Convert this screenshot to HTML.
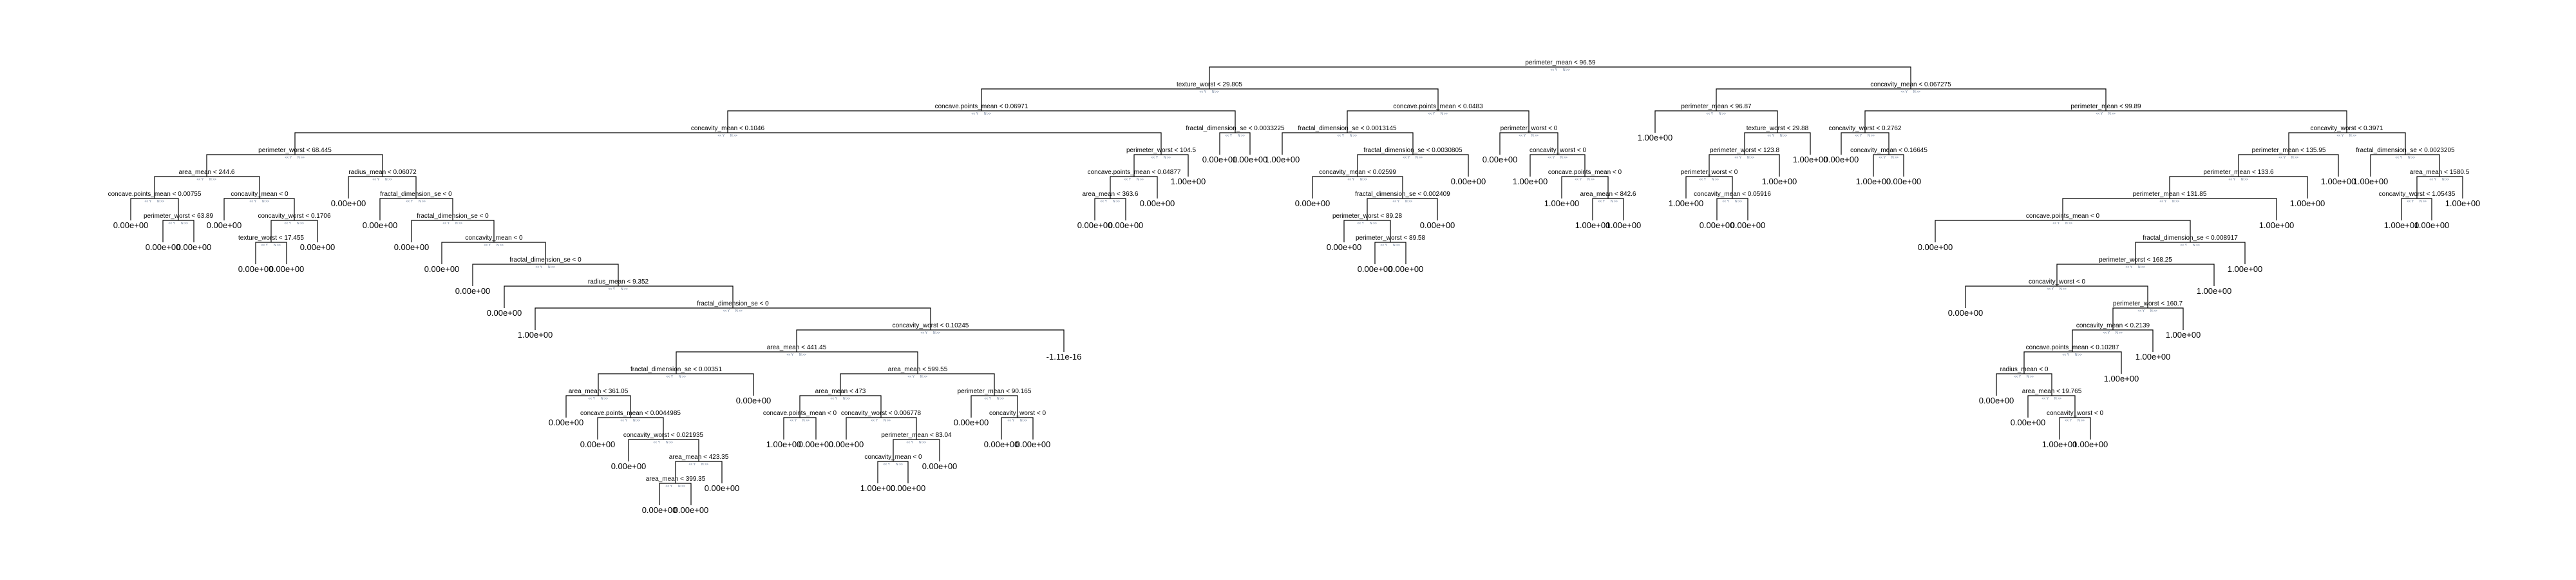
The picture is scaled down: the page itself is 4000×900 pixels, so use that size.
<!DOCTYPE html>
<html><head><meta charset="utf-8"><style>
html,body{margin:0;padding:0;background:#fff;}
svg{display:block;}
text{font-family:"Liberation Sans",sans-serif;}
.n{font-size:10px;text-anchor:middle;fill:#000;}
.l{font-size:13px;text-anchor:middle;fill:#000;}
.y{font-size:5px;text-anchor:end;fill:#5b6e8c;}
.N{font-size:5px;text-anchor:start;fill:#5b6e8c;}
path{fill:none;stroke:#000;stroke-width:1.2;}
</style></head><body>
<svg width="4000" height="900" viewBox="0 0 4000 900" xmlns="http://www.w3.org/2000/svg">
<rect width="4000" height="900" fill="#fff"/>
<!-- internal nodes -->
<path d="M1878 138V104H2967V138"/><text class="n" x="2423" y="100">perimeter_mean &lt; 96.59</text><text class="y" x="2418" y="110">&lt;&lt; Y</text><text class="N" x="2427" y="110">N &gt;&gt;</text>
<path d="M1524 172V138H2233V172"/><text class="n" x="1878" y="134">texture_worst &lt; 29.805</text><text class="y" x="1873" y="144">&lt;&lt; Y</text><text class="N" x="1882" y="144">N &gt;&gt;</text>
<path d="M1130 206V172H1918V206"/><text class="n" x="1524" y="168">concave.points_mean &lt; 0.06971</text><text class="y" x="1519" y="178">&lt;&lt; Y</text><text class="N" x="1528" y="178">N &gt;&gt;</text>
<path d="M458 240V206H1803V240"/><text class="n" x="1130" y="202">concavity_mean &lt; 0.1046</text><text class="y" x="1125" y="212">&lt;&lt; Y</text><text class="N" x="1134" y="212">N &gt;&gt;</text>
<path d="M321 274V240H594V274"/><text class="n" x="458" y="236">perimeter_worst &lt; 68.445</text><text class="y" x="453" y="246">&lt;&lt; Y</text><text class="N" x="462" y="246">N &gt;&gt;</text>
<path d="M240 308V274H403V308"/><text class="n" x="321" y="270">area_mean &lt; 244.6</text><text class="y" x="316" y="280">&lt;&lt; Y</text><text class="N" x="325" y="280">N &gt;&gt;</text>
<path d="M203 342V308H277V342"/><text class="n" x="240" y="304">concave.points_mean &lt; 0.00755</text><text class="y" x="235" y="314">&lt;&lt; Y</text><text class="N" x="244" y="314">N &gt;&gt;</text>
<path d="M253 376V342H301V376"/><text class="n" x="277" y="338">perimeter_worst &lt; 63.89</text><text class="y" x="272" y="348">&lt;&lt; Y</text><text class="N" x="281" y="348">N &gt;&gt;</text>
<path d="M348 342V308H457V342"/><text class="n" x="403" y="304">concavity_mean &lt; 0</text><text class="y" x="398" y="314">&lt;&lt; Y</text><text class="N" x="407" y="314">N &gt;&gt;</text>
<path d="M421 376V342H493V376"/><text class="n" x="457" y="338">concavity_worst &lt; 0.1706</text><text class="y" x="452" y="348">&lt;&lt; Y</text><text class="N" x="461" y="348">N &gt;&gt;</text>
<path d="M397 410V376H445V410"/><text class="n" x="421" y="372">texture_worst &lt; 17.455</text><text class="y" x="416" y="382">&lt;&lt; Y</text><text class="N" x="425" y="382">N &gt;&gt;</text>
<path d="M541 308V274H646V308"/><text class="n" x="594" y="270">radius_mean &lt; 0.06072</text><text class="y" x="589" y="280">&lt;&lt; Y</text><text class="N" x="598" y="280">N &gt;&gt;</text>
<path d="M590 342V308H703V342"/><text class="n" x="646" y="304">fractal_dimension_se &lt; 0</text><text class="y" x="641" y="314">&lt;&lt; Y</text><text class="N" x="650" y="314">N &gt;&gt;</text>
<path d="M639 376V342H767V376"/><text class="n" x="703" y="338">fractal_dimension_se &lt; 0</text><text class="y" x="698" y="348">&lt;&lt; Y</text><text class="N" x="707" y="348">N &gt;&gt;</text>
<path d="M686 410V376H847V410"/><text class="n" x="767" y="372">concavity_mean &lt; 0</text><text class="y" x="762" y="382">&lt;&lt; Y</text><text class="N" x="771" y="382">N &gt;&gt;</text>
<path d="M734 444V410H960V444"/><text class="n" x="847" y="406">fractal_dimension_se &lt; 0</text><text class="y" x="842" y="416">&lt;&lt; Y</text><text class="N" x="851" y="416">N &gt;&gt;</text>
<path d="M783 478V444H1138V478"/><text class="n" x="960" y="440">radius_mean &lt; 9.352</text><text class="y" x="955" y="450">&lt;&lt; Y</text><text class="N" x="964" y="450">N &gt;&gt;</text>
<path d="M831 512V478H1445V512"/><text class="n" x="1138" y="474">fractal_dimension_se &lt; 0</text><text class="y" x="1133" y="484">&lt;&lt; Y</text><text class="N" x="1142" y="484">N &gt;&gt;</text>
<path d="M1237 546V512H1652V546"/><text class="n" x="1445" y="508">concavity_worst &lt; 0.10245</text><text class="y" x="1440" y="518">&lt;&lt; Y</text><text class="N" x="1449" y="518">N &gt;&gt;</text>
<path d="M1050 580V546H1425V580"/><text class="n" x="1237" y="542">area_mean &lt; 441.45</text><text class="y" x="1232" y="552">&lt;&lt; Y</text><text class="N" x="1241" y="552">N &gt;&gt;</text>
<path d="M929 614V580H1170V614"/><text class="n" x="1050" y="576">fractal_dimension_se &lt; 0.00351</text><text class="y" x="1045" y="586">&lt;&lt; Y</text><text class="N" x="1054" y="586">N &gt;&gt;</text>
<path d="M879 648V614H979V648"/><text class="n" x="929" y="610">area_mean &lt; 361.05</text><text class="y" x="924" y="620">&lt;&lt; Y</text><text class="N" x="933" y="620">N &gt;&gt;</text>
<path d="M928 682V648H1030V682"/><text class="n" x="979" y="644">concave.points_mean &lt; 0.0044985</text><text class="y" x="974" y="654">&lt;&lt; Y</text><text class="N" x="983" y="654">N &gt;&gt;</text>
<path d="M976 716V682H1085V716"/><text class="n" x="1030" y="678">concavity_worst &lt; 0.021935</text><text class="y" x="1025" y="688">&lt;&lt; Y</text><text class="N" x="1034" y="688">N &gt;&gt;</text>
<path d="M1049 750V716H1121V750"/><text class="n" x="1085" y="712">area_mean &lt; 423.35</text><text class="y" x="1080" y="722">&lt;&lt; Y</text><text class="N" x="1089" y="722">N &gt;&gt;</text>
<path d="M1024 784V750H1073V784"/><text class="n" x="1049" y="746">area_mean &lt; 399.35</text><text class="y" x="1044" y="756">&lt;&lt; Y</text><text class="N" x="1053" y="756">N &gt;&gt;</text>
<path d="M1305 614V580H1544V614"/><text class="n" x="1425" y="576">area_mean &lt; 599.55</text><text class="y" x="1420" y="586">&lt;&lt; Y</text><text class="N" x="1429" y="586">N &gt;&gt;</text>
<path d="M1242 648V614H1368V648"/><text class="n" x="1305" y="610">area_mean &lt; 473</text><text class="y" x="1300" y="620">&lt;&lt; Y</text><text class="N" x="1309" y="620">N &gt;&gt;</text>
<path d="M1217 682V648H1267V682"/><text class="n" x="1242" y="644">concave.points_mean &lt; 0</text><text class="y" x="1237" y="654">&lt;&lt; Y</text><text class="N" x="1246" y="654">N &gt;&gt;</text>
<path d="M1314 682V648H1423V682"/><text class="n" x="1368" y="644">concavity_worst &lt; 0.006778</text><text class="y" x="1363" y="654">&lt;&lt; Y</text><text class="N" x="1372" y="654">N &gt;&gt;</text>
<path d="M1387 716V682H1459V716"/><text class="n" x="1423" y="678">perimeter_mean &lt; 83.04</text><text class="y" x="1418" y="688">&lt;&lt; Y</text><text class="N" x="1427" y="688">N &gt;&gt;</text>
<path d="M1363 750V716H1410V750"/><text class="n" x="1387" y="712">concavity_mean &lt; 0</text><text class="y" x="1382" y="722">&lt;&lt; Y</text><text class="N" x="1391" y="722">N &gt;&gt;</text>
<path d="M1508 648V614H1580V648"/><text class="n" x="1544" y="610">perimeter_mean &lt; 90.165</text><text class="y" x="1539" y="620">&lt;&lt; Y</text><text class="N" x="1548" y="620">N &gt;&gt;</text>
<path d="M1555 682V648H1604V682"/><text class="n" x="1580" y="644">concavity_worst &lt; 0</text><text class="y" x="1575" y="654">&lt;&lt; Y</text><text class="N" x="1584" y="654">N &gt;&gt;</text>
<path d="M1761 274V240H1845V274"/><text class="n" x="1803" y="236">perimeter_worst &lt; 104.5</text><text class="y" x="1798" y="246">&lt;&lt; Y</text><text class="N" x="1807" y="246">N &gt;&gt;</text>
<path d="M1724 308V274H1797V308"/><text class="n" x="1761" y="270">concave.points_mean &lt; 0.04877</text><text class="y" x="1756" y="280">&lt;&lt; Y</text><text class="N" x="1765" y="280">N &gt;&gt;</text>
<path d="M1700 342V308H1748V342"/><text class="n" x="1724" y="304">area_mean &lt; 363.6</text><text class="y" x="1719" y="314">&lt;&lt; Y</text><text class="N" x="1728" y="314">N &gt;&gt;</text>
<path d="M1894 240V206H1941V240"/><text class="n" x="1918" y="202">fractal_dimension_se &lt; 0.0033225</text><text class="y" x="1913" y="212">&lt;&lt; Y</text><text class="N" x="1922" y="212">N &gt;&gt;</text>
<path d="M2092 206V172H2374V206"/><text class="n" x="2233" y="168">concave.points_mean &lt; 0.0483</text><text class="y" x="2228" y="178">&lt;&lt; Y</text><text class="N" x="2237" y="178">N &gt;&gt;</text>
<path d="M1991 240V206H2194V240"/><text class="n" x="2092" y="202">fractal_dimension_se &lt; 0.0013145</text><text class="y" x="2087" y="212">&lt;&lt; Y</text><text class="N" x="2096" y="212">N &gt;&gt;</text>
<path d="M2108 274V240H2280V274"/><text class="n" x="2194" y="236">fractal_dimension_se &lt; 0.0030805</text><text class="y" x="2189" y="246">&lt;&lt; Y</text><text class="N" x="2198" y="246">N &gt;&gt;</text>
<path d="M2038 308V274H2178V308"/><text class="n" x="2108" y="270">concavity_mean &lt; 0.02599</text><text class="y" x="2103" y="280">&lt;&lt; Y</text><text class="N" x="2112" y="280">N &gt;&gt;</text>
<path d="M2123 342V308H2232V342"/><text class="n" x="2178" y="304">fractal_dimension_se &lt; 0.002409</text><text class="y" x="2173" y="314">&lt;&lt; Y</text><text class="N" x="2182" y="314">N &gt;&gt;</text>
<path d="M2087 376V342H2159V376"/><text class="n" x="2123" y="338">perimeter_worst &lt; 89.28</text><text class="y" x="2118" y="348">&lt;&lt; Y</text><text class="N" x="2127" y="348">N &gt;&gt;</text>
<path d="M2135 410V376H2183V410"/><text class="n" x="2159" y="372">perimeter_worst &lt; 89.58</text><text class="y" x="2154" y="382">&lt;&lt; Y</text><text class="N" x="2163" y="382">N &gt;&gt;</text>
<path d="M2329 240V206H2419V240"/><text class="n" x="2374" y="202">perimeter_worst &lt; 0</text><text class="y" x="2369" y="212">&lt;&lt; Y</text><text class="N" x="2378" y="212">N &gt;&gt;</text>
<path d="M2376 274V240H2461V274"/><text class="n" x="2419" y="236">concavity_worst &lt; 0</text><text class="y" x="2414" y="246">&lt;&lt; Y</text><text class="N" x="2423" y="246">N &gt;&gt;</text>
<path d="M2425 308V274H2497V308"/><text class="n" x="2461" y="270">concave.points_mean &lt; 0</text><text class="y" x="2456" y="280">&lt;&lt; Y</text><text class="N" x="2465" y="280">N &gt;&gt;</text>
<path d="M2473 342V308H2521V342"/><text class="n" x="2497" y="304">area_mean &lt; 842.6</text><text class="y" x="2492" y="314">&lt;&lt; Y</text><text class="N" x="2501" y="314">N &gt;&gt;</text>
<path d="M2665 172V138H3270V172"/><text class="n" x="2967" y="134">concavity_mean &lt; 0.067275</text><text class="y" x="2962" y="144">&lt;&lt; Y</text><text class="N" x="2971" y="144">N &gt;&gt;</text>
<path d="M2570 206V172H2760V206"/><text class="n" x="2665" y="168">perimeter_mean &lt; 96.87</text><text class="y" x="2660" y="178">&lt;&lt; Y</text><text class="N" x="2669" y="178">N &gt;&gt;</text>
<path d="M2709 240V206H2811V240"/><text class="n" x="2760" y="202">texture_worst &lt; 29.88</text><text class="y" x="2755" y="212">&lt;&lt; Y</text><text class="N" x="2764" y="212">N &gt;&gt;</text>
<path d="M2654 274V240H2763V274"/><text class="n" x="2709" y="236">perimeter_worst &lt; 123.8</text><text class="y" x="2704" y="246">&lt;&lt; Y</text><text class="N" x="2713" y="246">N &gt;&gt;</text>
<path d="M2618 308V274H2690V308"/><text class="n" x="2654" y="270">perimeter_worst &lt; 0</text><text class="y" x="2649" y="280">&lt;&lt; Y</text><text class="N" x="2658" y="280">N &gt;&gt;</text>
<path d="M2666 342V308H2714V342"/><text class="n" x="2690" y="304">concavity_mean &lt; 0.05916</text><text class="y" x="2685" y="314">&lt;&lt; Y</text><text class="N" x="2694" y="314">N &gt;&gt;</text>
<path d="M2896 206V172H3644V206"/><text class="n" x="3270" y="168">perimeter_mean &lt; 99.89</text><text class="y" x="3265" y="178">&lt;&lt; Y</text><text class="N" x="3274" y="178">N &gt;&gt;</text>
<path d="M2859 240V206H2933V240"/><text class="n" x="2896" y="202">concavity_worst &lt; 0.2762</text><text class="y" x="2891" y="212">&lt;&lt; Y</text><text class="N" x="2900" y="212">N &gt;&gt;</text>
<path d="M2909 274V240H2956V274"/><text class="n" x="2933" y="236">concavity_mean &lt; 0.16645</text><text class="y" x="2928" y="246">&lt;&lt; Y</text><text class="N" x="2937" y="246">N &gt;&gt;</text>
<path d="M3554 240V206H3735V240"/><text class="n" x="3644" y="202">concavity_worst &lt; 0.3971</text><text class="y" x="3639" y="212">&lt;&lt; Y</text><text class="N" x="3648" y="212">N &gt;&gt;</text>
<path d="M3476 274V240H3631V274"/><text class="n" x="3554" y="236">perimeter_mean &lt; 135.95</text><text class="y" x="3549" y="246">&lt;&lt; Y</text><text class="N" x="3558" y="246">N &gt;&gt;</text>
<path d="M3369 308V274H3583V308"/><text class="n" x="3476" y="270">perimeter_mean &lt; 133.6</text><text class="y" x="3471" y="280">&lt;&lt; Y</text><text class="N" x="3480" y="280">N &gt;&gt;</text>
<path d="M3203 342V308H3535V342"/><text class="n" x="3369" y="304">perimeter_mean &lt; 131.85</text><text class="y" x="3364" y="314">&lt;&lt; Y</text><text class="N" x="3373" y="314">N &gt;&gt;</text>
<path d="M3005 376V342H3401V376"/><text class="n" x="3203" y="338">concave.points_mean &lt; 0</text><text class="y" x="3198" y="348">&lt;&lt; Y</text><text class="N" x="3207" y="348">N &gt;&gt;</text>
<path d="M3316 410V376H3486V410"/><text class="n" x="3401" y="372">fractal_dimension_se &lt; 0.008917</text><text class="y" x="3396" y="382">&lt;&lt; Y</text><text class="N" x="3405" y="382">N &gt;&gt;</text>
<path d="M3194 444V410H3438V444"/><text class="n" x="3316" y="406">perimeter_worst &lt; 168.25</text><text class="y" x="3311" y="416">&lt;&lt; Y</text><text class="N" x="3320" y="416">N &gt;&gt;</text>
<path d="M3052 478V444H3335V478"/><text class="n" x="3194" y="440">concavity_worst &lt; 0</text><text class="y" x="3189" y="450">&lt;&lt; Y</text><text class="N" x="3198" y="450">N &gt;&gt;</text>
<path d="M3281 512V478H3390V512"/><text class="n" x="3335" y="474">perimeter_worst &lt; 160.7</text><text class="y" x="3330" y="484">&lt;&lt; Y</text><text class="N" x="3339" y="484">N &gt;&gt;</text>
<path d="M3218 546V512H3343V546"/><text class="n" x="3281" y="508">concavity_mean &lt; 0.2139</text><text class="y" x="3276" y="518">&lt;&lt; Y</text><text class="N" x="3285" y="518">N &gt;&gt;</text>
<path d="M3143 580V546H3294V580"/><text class="n" x="3218" y="542">concave.points_mean &lt; 0.10287</text><text class="y" x="3213" y="552">&lt;&lt; Y</text><text class="N" x="3222" y="552">N &gt;&gt;</text>
<path d="M3100 614V580H3186V614"/><text class="n" x="3143" y="576">radius_mean &lt; 0</text><text class="y" x="3138" y="586">&lt;&lt; Y</text><text class="N" x="3147" y="586">N &gt;&gt;</text>
<path d="M3149 648V614H3222V648"/><text class="n" x="3186" y="610">area_mean &lt; 19.765</text><text class="y" x="3181" y="620">&lt;&lt; Y</text><text class="N" x="3190" y="620">N &gt;&gt;</text>
<path d="M3198 682V648H3246V682"/><text class="n" x="3222" y="644">concavity_worst &lt; 0</text><text class="y" x="3217" y="654">&lt;&lt; Y</text><text class="N" x="3226" y="654">N &gt;&gt;</text>
<path d="M3681 274V240H3788V274"/><text class="n" x="3735" y="236">fractal_dimension_se &lt; 0.0023205</text><text class="y" x="3730" y="246">&lt;&lt; Y</text><text class="N" x="3739" y="246">N &gt;&gt;</text>
<path d="M3753 308V274H3824V308"/><text class="n" x="3788" y="270">area_mean &lt; 1580.5</text><text class="y" x="3783" y="280">&lt;&lt; Y</text><text class="N" x="3792" y="280">N &gt;&gt;</text>
<path d="M3729 342V308H3776V342"/><text class="n" x="3753" y="304">concavity_worst &lt; 1.05435</text><text class="y" x="3748" y="314">&lt;&lt; Y</text><text class="N" x="3757" y="314">N &gt;&gt;</text>
<!-- leaves -->
<text class="l" x="203" y="354">0.00e+00</text>
<text class="l" x="253" y="388">0.00e+00</text>
<text class="l" x="301" y="388">0.00e+00</text>
<text class="l" x="348" y="354">0.00e+00</text>
<text class="l" x="397" y="422">0.00e+00</text>
<text class="l" x="445" y="422">0.00e+00</text>
<text class="l" x="493" y="388">0.00e+00</text>
<text class="l" x="541" y="320">0.00e+00</text>
<text class="l" x="590" y="354">0.00e+00</text>
<text class="l" x="639" y="388">0.00e+00</text>
<text class="l" x="686" y="422">0.00e+00</text>
<text class="l" x="734" y="456">0.00e+00</text>
<text class="l" x="783" y="490">0.00e+00</text>
<text class="l" x="831" y="524">1.00e+00</text>
<text class="l" x="1652" y="558">-1.11e-16</text>
<text class="l" x="879" y="660">0.00e+00</text>
<text class="l" x="928" y="694">0.00e+00</text>
<text class="l" x="976" y="728">0.00e+00</text>
<text class="l" x="1024" y="796">0.00e+00</text>
<text class="l" x="1073" y="796">0.00e+00</text>
<text class="l" x="1121" y="762">0.00e+00</text>
<text class="l" x="1170" y="626">0.00e+00</text>
<text class="l" x="1217" y="694">1.00e+00</text>
<text class="l" x="1267" y="694">0.00e+00</text>
<text class="l" x="1314" y="694">0.00e+00</text>
<text class="l" x="1363" y="762">1.00e+00</text>
<text class="l" x="1410" y="762">0.00e+00</text>
<text class="l" x="1459" y="728">0.00e+00</text>
<text class="l" x="1508" y="660">0.00e+00</text>
<text class="l" x="1555" y="694">0.00e+00</text>
<text class="l" x="1604" y="694">0.00e+00</text>
<text class="l" x="1700" y="354">0.00e+00</text>
<text class="l" x="1748" y="354">0.00e+00</text>
<text class="l" x="1797" y="320">0.00e+00</text>
<text class="l" x="1845" y="286">1.00e+00</text>
<text class="l" x="1894" y="252">0.00e+00</text>
<text class="l" x="1941" y="252">1.00e+00</text>
<text class="l" x="1991" y="252">1.00e+00</text>
<text class="l" x="2038" y="320">0.00e+00</text>
<text class="l" x="2087" y="388">0.00e+00</text>
<text class="l" x="2135" y="422">0.00e+00</text>
<text class="l" x="2183" y="422">0.00e+00</text>
<text class="l" x="2232" y="354">0.00e+00</text>
<text class="l" x="2280" y="286">0.00e+00</text>
<text class="l" x="2329" y="252">0.00e+00</text>
<text class="l" x="2376" y="286">1.00e+00</text>
<text class="l" x="2425" y="320">1.00e+00</text>
<text class="l" x="2473" y="354">1.00e+00</text>
<text class="l" x="2521" y="354">1.00e+00</text>
<text class="l" x="2570" y="218">1.00e+00</text>
<text class="l" x="2618" y="320">1.00e+00</text>
<text class="l" x="2666" y="354">0.00e+00</text>
<text class="l" x="2714" y="354">0.00e+00</text>
<text class="l" x="2763" y="286">1.00e+00</text>
<text class="l" x="2811" y="252">1.00e+00</text>
<text class="l" x="2859" y="252">0.00e+00</text>
<text class="l" x="2909" y="286">1.00e+00</text>
<text class="l" x="2956" y="286">0.00e+00</text>
<text class="l" x="3005" y="388">0.00e+00</text>
<text class="l" x="3052" y="490">0.00e+00</text>
<text class="l" x="3100" y="626">0.00e+00</text>
<text class="l" x="3149" y="660">0.00e+00</text>
<text class="l" x="3198" y="694">1.00e+00</text>
<text class="l" x="3246" y="694">1.00e+00</text>
<text class="l" x="3294" y="592">1.00e+00</text>
<text class="l" x="3343" y="558">1.00e+00</text>
<text class="l" x="3390" y="524">1.00e+00</text>
<text class="l" x="3438" y="456">1.00e+00</text>
<text class="l" x="3486" y="422">1.00e+00</text>
<text class="l" x="3535" y="354">1.00e+00</text>
<text class="l" x="3583" y="320">1.00e+00</text>
<text class="l" x="3631" y="286">1.00e+00</text>
<text class="l" x="3681" y="286">1.00e+00</text>
<text class="l" x="3729" y="354">1.00e+00</text>
<text class="l" x="3776" y="354">1.00e+00</text>
<text class="l" x="3824" y="320">1.00e+00</text>
</svg>
</body></html>
